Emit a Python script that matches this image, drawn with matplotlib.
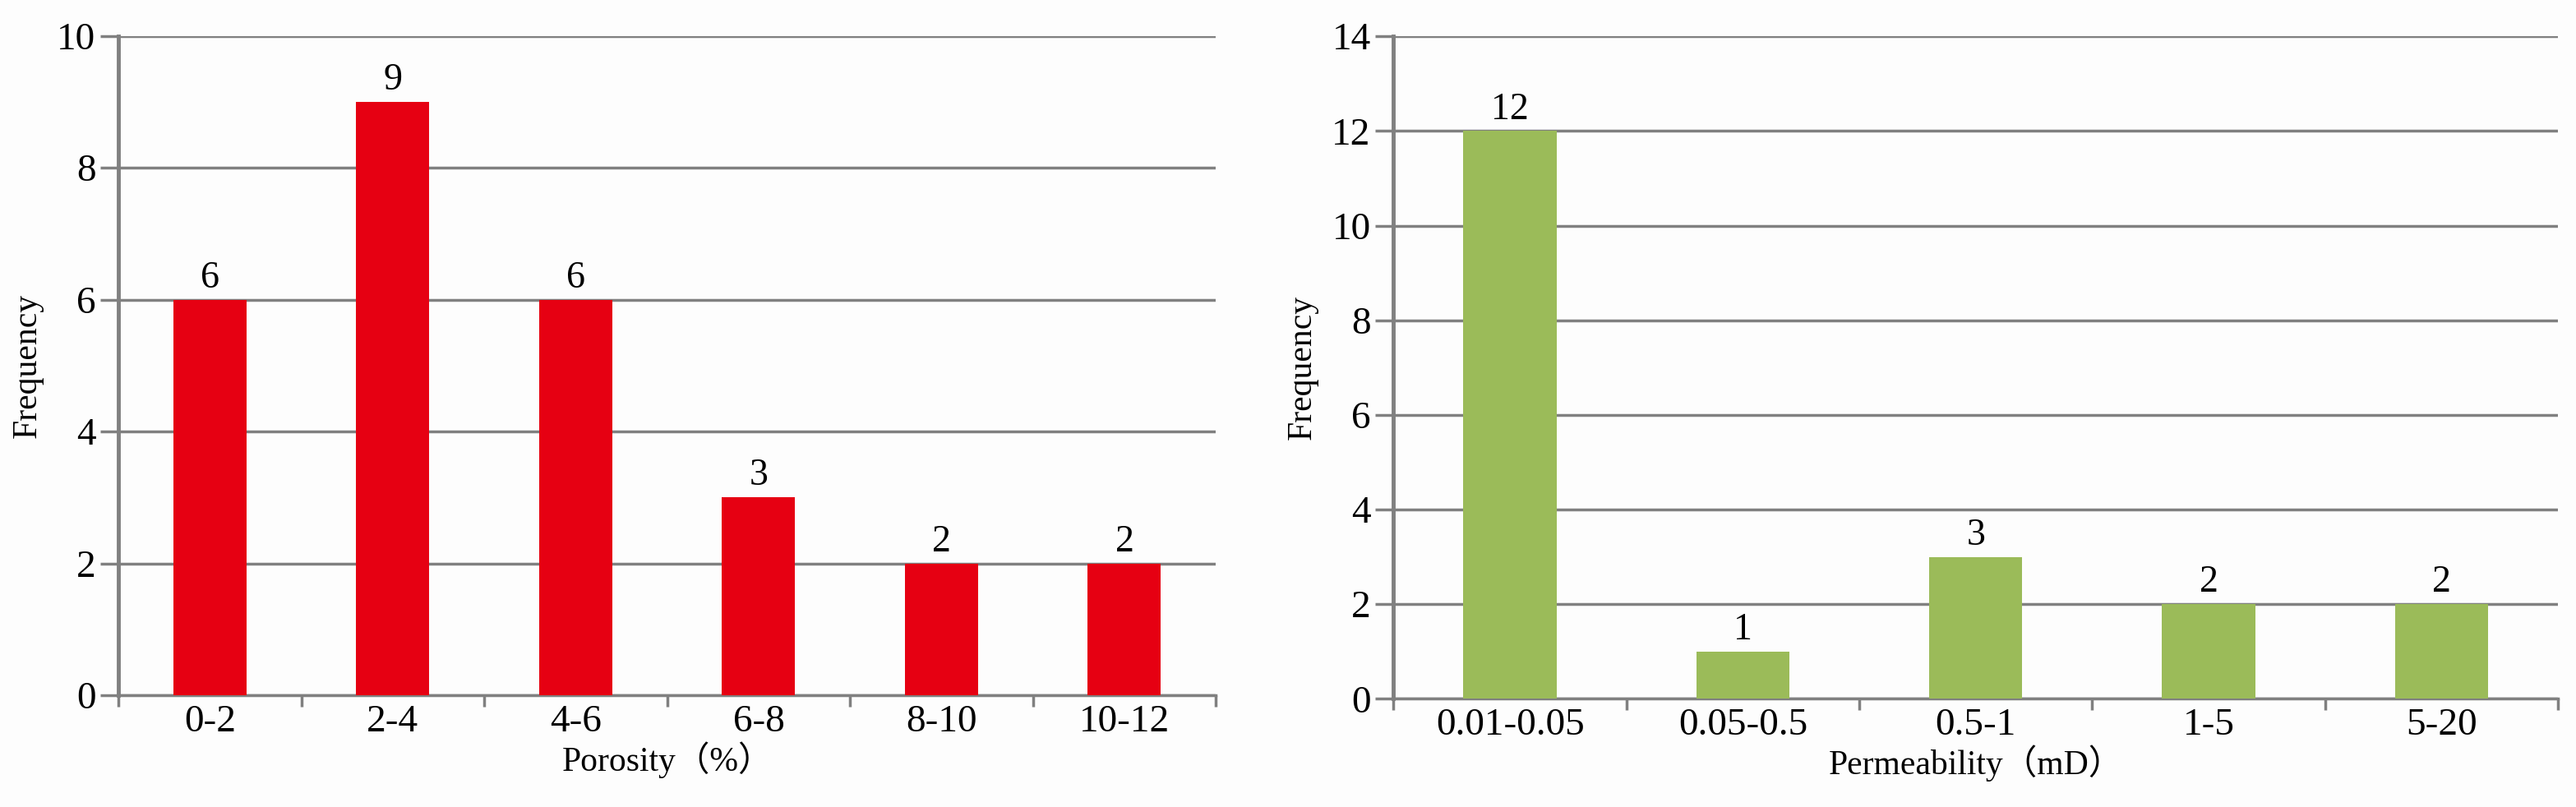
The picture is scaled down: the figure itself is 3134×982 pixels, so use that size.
import matplotlib
matplotlib.use("Agg")
import matplotlib.pyplot as plt
import numpy as np

por_cats = ["0-2", "2-4", "4-6", "6-8", "8-10", "10-12"]
por_vals = [6, 9, 6, 3, 2, 2]
perm_cats = ["0.01-0.05", "0.05-0.5", "0.5-1", "1-5", "5-20"]
perm_vals = [12, 1, 3, 2, 2]

plt.rcParams['font.family'] = ['Liberation Serif', 'Noto Sans CJK SC', 'DejaVu Serif']
fig = plt.figure(figsize=(31.34, 9.82), dpi=100)
fig.patch.set_facecolor('#fdfdfd')
GRAY = '#808080'

def panel(rect, cats, vals, color, ymax, xlabel):
    ax = fig.add_axes(rect)
    ax.set_facecolor('#fdfdfd')
    x = np.arange(len(cats))
    bars = ax.bar(x, vals, width=0.4, color=color, zorder=3)
    for b, v in zip(bars, vals):
        ax.text(b.get_x() + b.get_width()/2, v + ymax*0.006, str(v), ha='center', va='bottom', fontsize=33)
    ax.set_xlim(-0.5, len(cats) - 0.5)
    ax.set_ylim(0, ymax)
    ax.set_yticks(np.arange(0, ymax + 1, 2))
    ax.yaxis.grid(True, color=GRAY, linewidth=2.5, zorder=0)
    ax.set_xticks(x)
    ax.set_xticklabels(cats, fontsize=34)
    ax.set_xticks(np.arange(-0.5, len(cats), 1), minor=True)
    ax.tick_params(axis='x', which='major', length=0, pad=8)
    ax.tick_params(axis='x', which='minor', length=10, width=2.5, color=GRAY)
    ax.tick_params(axis='y', length=16, width=2.5, color=GRAY, labelsize=34, pad=4)
    for s in ['top', 'right']:
        ax.spines[s].set_visible(False)
    ax.spines['left'].set_color(GRAY)
    ax.spines['left'].set_linewidth(3.5)
    ax.spines['bottom'].set_color(GRAY)
    ax.spines['bottom'].set_linewidth(2.5)
    ax.set_ylabel("Frequency", fontsize=30, labelpad=12)
    ax.set_xlabel(xlabel, fontsize=30, labelpad=2)
    return ax

panel([0.046, 0.1385, 0.426, 0.817], por_cats, por_vals, '#e60012', 10, "Porosity（%）")
panel([0.541, 0.134, 0.452, 0.821], perm_cats, perm_vals, '#9bbb59', 14, "Permeability（mD）")

fig.savefig("out.png", dpi=100, facecolor=fig.get_facecolor())
